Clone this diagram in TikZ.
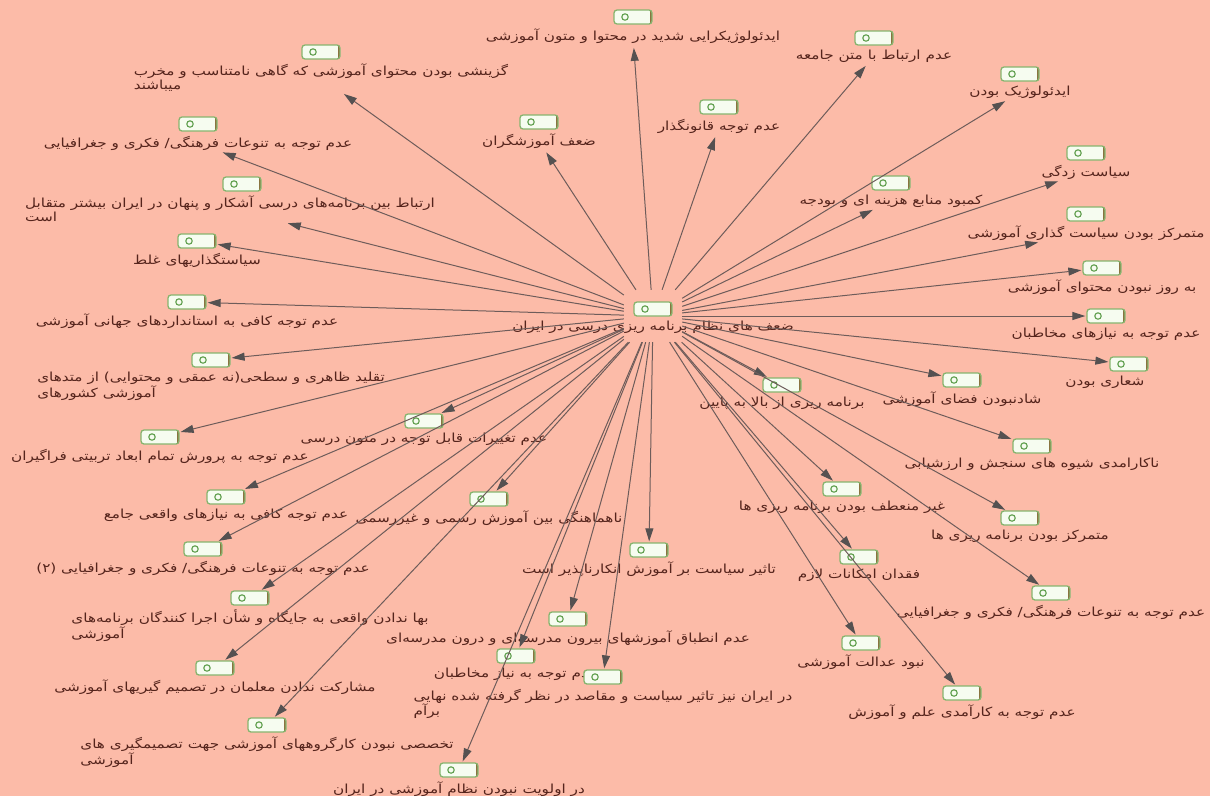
\documentclass[tikz,border=0pt]{standalone}
\usepackage{fontspec}
\newfontfamily\arabicfont[Script=Arabic,FakeStretch=1.22]{DejaVu Sans}
\TeXXeTstate=1
\usetikzlibrary{arrows.meta,positioning}
\definecolor{bgc}{HTML}{FCBBA8}
\definecolor{txt}{HTML}{55241C}
\definecolor{linec}{HTML}{6E5C5A}
\definecolor{headc}{HTML}{555151}
\definecolor{iconedge}{HTML}{86B46E}
\definecolor{iconfill}{HTML}{F6FCF0}
\definecolor{icirc}{HTML}{5E9E4C}
\definecolor{iconright}{HTML}{8A7440}
\newcommand{\rl}[1]{\beginR #1\endR}
\newcommand{\topic}[4]{\node[icon] (i#1) at (#2,#3) {};\node[lbl,below=3pt of i#1] (l#1) {#4};}
\newcommand{\topicml}[4]{\node[icon] (i#1) at (#2,#3) {};\node[lbl,align=left,below=3pt of i#1] (l#1) {#4};}
\begin{document}
\begin{tikzpicture}[x=1pt,y=-1pt,
  icon/.style={rectangle, rounded corners=3pt, minimum width=38pt, minimum height=14pt, inner sep=0pt,
    draw=iconedge, line width=1.3pt, fill=iconfill,
    path picture={\draw[icirc, line width=1.1pt] ([xshift=11pt]path picture bounding box.west) circle (3.2pt);
      \draw[iconright, line width=1.6pt] ([xshift=-1pt]path picture bounding box.north east) -- ([xshift=-1pt]path picture bounding box.south east);}},
  lbl/.style={font=\arabicfont\fontsize{12.5}{11.5}\selectfont, text=txt, inner sep=1pt, align=center},
  arr/.style={draw=linec, line width=1pt, -{Triangle[length=13pt,width=8pt,color=headc]}, shorten >=1pt},
  arrl/.style={arr, shorten >=3pt}]
\fill[bgc] (0,0) rectangle (1210,796);
\useasboundingbox (0,0) rectangle (1210,796);
% centre
\node[minimum width=58pt, minimum height=52pt, inner sep=0pt] (c) at (653,316) {};
\node[icon] (ic) at (653,309) {};
\node[lbl, below=3pt of ic] (lc) {\rl{ضعف های نظام برنامه ریزی درسی در ایران}};
% topics
\topic{A}{633}{17}{\rl{ایدئولوژیکرایی شدید در محتوا و متون آموزشی}}
\topic{B}{874}{38}{\rl{عدم ارتباط با متن جامعه}}
\topicml{C}{321}{52}{\rl{گزینشی بودن محتوای آموزشی که گاهی نامتناسب و مخرب}\\\rl{میباشند}}
\topic{D}{539}{122}{\rl{ضعف آموزشگران}}
\topic{E}{719}{107}{\rl{عدم توجه قانونگذار}}
\topic{F}{1020}{74}{\rl{ایدئولوژیک بودن}}
\topic{G}{198}{124}{\rl{عدم توجه به تنوعات فرهنگی/ فکری و جغرافیایی}}
\node[icon] (iH) at (242,184) {};
\node[lbl,align=left,below=3pt of iH,xshift=-12pt] (lH) {\rl{ارتباط بین برنامه‌های درسی آشکار و پنهان در ایران بیشتر متقابل}\\\rl{است}};
\topic{I}{1086}{153}{\rl{سیاست زدگی}}
\topic{J}{891}{183}{\rl{کمبود منابع هزینه ای و بودجه}}
\topic{K}{197}{241}{\rl{سیاستگذاریهای غلط}}
\topic{L}{1086}{214}{\rl{متمرکز بودن سیاست گذاری آموزشی}}
\topic{M}{1102}{268}{\rl{به روز نبودن محتوای آموزشی}}
\topic{N}{187}{302}{\rl{عدم توجه کافی به استانداردهای جهانی آموزشی}}
\topic{O}{1106}{316}{\rl{عدم توجه به نیازهای مخاطبان}}
\topicml{P}{211}{360}{\rl{تقلید ظاهری و سطحی(نه عمقی و محتوایی) از متدهای}\\\rl{آموزشی کشورهای}}
\node[icon] (iQ) at (1129,364) {};
\node[lbl,below=3pt of iQ,xshift=-24pt] (lQ) {\rl{شعاری بودن}};
\topic{R}{962}{380}{\rl{شادنبودن فضای آموزشی}}
\topic{S}{782}{385}{\rl{برنامه ریزی از بالا به پایین}}
\topic{T}{424}{421}{\rl{عدم تغییرات قابل توجه در متون درسی}}
\topic{U}{160}{437}{\rl{عدم توجه به پرورش تمام ابعاد تربیتی فراگیران}}
\topic{V}{1032}{446}{\rl{ناکارامدی شیوه های سنجش و ارزشیابی}}
\topic{W}{226}{497}{\rl{عدم توجه کافی به نیازهای واقعی جامع}}
\topic{X}{489}{499}{\rl{ناهماهنگی بین آموزش رسمی و غیررسمی}}
\topic{Y}{842}{489}{\rl{غیر منعطف بودن برنامه ریزی ها}}
\topic{Z}{203}{549}{\rl{عدم توجه به تنوعات فرهنگی/ فکری و جغرافیایی (۲)}}
\topicml{AA}{250}{598}{\rl{بها ندادن واقعی به جایگاه و شأن اجرا کنندگان برنامه‌های}\\\rl{آموزشی}}
\topic{BB}{215}{668}{\rl{مشارکت ندادن معلمان در تصمیم گیریهای آموزشی}}
\topicml{CC}{267}{725}{\rl{تخصصی نبودن کارگروههای آموزشی جهت تصمیمگیری های}\\\rl{آموزشی}}
\topic{DD}{459}{770}{\rl{در اولویت نبودن نظام آموزشی در ایران}}
\topic{EE}{516}{656}{\rl{عدم توجه به نیاز مخاطبان}}
\topicml{FF}{603}{677}{\rl{در ایران نیز تاثیر سیاست و مقاصد در نظر گرفته شده نهایی}\\\rl{برآم}}
\topic{GG}{568}{619}{\rl{عدم انطباق آموزشهای بیرون مدرسه‌ای و درون مدرسه‌ای}}
\topic{HH}{649}{550}{\rl{تاثیر سیاست بر آموزش انکارناپذیر است}}
\topic{II}{859}{557}{\rl{فقدان امکانات لازم}}
\topic{JJ}{1020}{518}{\rl{متمرکز بودن برنامه ریزی ها}}
\topic{KK}{1051}{593}{\rl{عدم توجه به تنوعات فرهنگی/ فکری و جغرافیایی}}
\topic{LL}{861}{643}{\rl{نبود عدالت آموزشی}}
\topic{MM}{962}{693}{\rl{عدم توجه به کارآمدی علم و آموزش}}
% connectors
\foreach \t in {A,B,C,D,E,F,G,H,I,J,L}
  \draw[arrl] (c) -- (l\t);
\foreach \t in {K,M,N,O,P,Q,R,S,T,U,V,W,X,Y,Z,AA,BB,CC,DD,EE,FF,GG,HH,II,JJ,KK,LL,MM}
  \draw[arr] (c) -- (i\t);
\end{tikzpicture}
\end{document}
